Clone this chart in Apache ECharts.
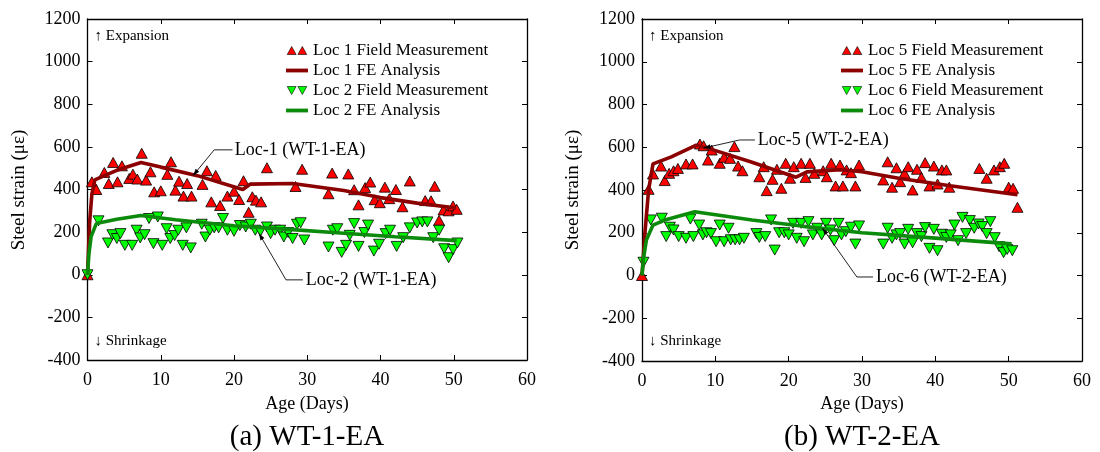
<!DOCTYPE html>
<html>
<head>
<meta charset="utf-8">
<script src="https://cdn.jsdelivr.net/npm/echarts@6/dist/echarts.min.js"></script>
<style>
  html, body { margin: 0; padding: 0; background: #fff; }
  #chart { width: 1100px; height: 452px; }
</style>
</head>
<body>
<div id="chart"></div>
<script>
// ---- Measured steel strain (με) against age (days) ----
// WT-1-EA, location 1 field readings
const loc1Field = [[0,0],[0.6,436],[1.2,400],[2.3,480],[2.9,428],[3.5,527],[4.1,436],[4.7,511],[5.7,452],[6.2,472],[6.8,449],[7.4,570],[8.0,444],[8.6,483],[9.1,389],[10.0,394],[10.9,471],[11.4,530],[12.0,397],[12.5,439],[13.1,369],[13.6,428],[14.2,369],[15.7,424],[16.3,488],[16.9,342],[17.5,466],[18.1,325],[19.1,369],[20.0,392],[20.7,353],[21.3,441],[22.0,293],[22.5,366],[23.0,350],[23.7,342],[24.5,502],[28.4,414],[29.3,495],[32.9,380],[33.4,477],[35.6,473],[36.4,399],[37.0,328],[37.9,409],[38.6,435],[39.2,352],[39.9,338],[40.6,411],[41.2,357],[42.1,400],[43.0,319],[44.0,440],[46.1,348],[46.9,347],[47.4,415],[48.0,255],[48.6,304],[49.3,300],[49.9,323],[50.4,307]];
// WT-1-EA, location 1 FE prediction
const loc1FE = [[0,0],[0.3,250],[0.6,380],[1.0,445],[2,460],[4,490],[7.3,527],[10,505],[15,465],[21.2,400],[22.2,425],[28,428],[35,395],[40,362],[45,336],[50.3,313]];
// WT-1-EA, location 2 field readings
const loc2Field = [[0,0],[1.5,253],[2.8,149],[3.4,188],[4.0,170],[4.5,193],[5.1,138],[6.1,138],[6.7,209],[7.2,173],[7.8,188],[8.4,264],[9.0,146],[9.6,271],[10.2,138],[10.8,216],[11.3,170],[11.9,184],[12.4,209],[13.0,138],[13.5,220],[14.1,126],[15.6,237],[16.1,177],[16.7,209],[17.3,220],[17.9,220],[18.5,264],[19.1,209],[20.0,204],[20.8,231],[21.6,224],[22.3,237],[22.9,209],[23.6,204],[24.5,224],[25.0,193],[25.6,209],[26.3,209],[26.8,177],[27.4,198],[28.0,170],[28.6,237],[29.1,244],[29.6,163],[32.9,130],[33.5,209],[34.1,216],[34.7,105],[35.3,138],[35.8,185],[36.4,240],[37.0,133],[37.8,198],[38.3,233],[39.1,111],[39.8,143],[40.7,193],[41.3,209],[42.2,133],[43.1,174],[44.0,220],[45.0,243],[45.7,248],[46.4,248],[47.2,174],[48.0,209],[48.7,122],[49.3,80],[49.9,118],[50.5,149]];
// WT-1-EA, location 2 FE prediction
const loc2FE = [[0,0],[0.2,100],[0.5,180],[1.2,240],[4,260],[7.3,278],[12,258],[20,230],[27,214],[35,195],[42,178],[50.4,160]];

// WT-2-EA, location 5 field readings
const loc5Field = [[0,0],[0.9,403],[1.5,475],[2.6,512],[3.1,444],[3.7,478],[4.3,490],[4.9,501],[6.0,522],[6.9,522],[7.9,615],[8.4,607],[9.0,540],[9.5,587],[10.6,525],[11.2,553],[12.0,548],[12.6,603],[13.1,512],[13.7,490],[16.0,462],[16.6,509],[17.0,397],[17.8,450],[18.4,497],[19.0,408],[19.6,525],[20.2,455],[20.7,509],[21.7,525],[22.3,459],[22.9,525],[23.5,478],[24.7,490],[25.2,462],[25.8,525],[26.4,419],[27.0,517],[27.4,419],[27.9,494],[28.5,481],[29.1,419],[29.6,517],[32.9,447],[33.5,532],[34.1,413],[34.7,504],[35.2,439],[35.8,478],[36.3,509],[36.9,400],[37.5,497],[38.1,459],[38.6,528],[39.2,419],[39.8,512],[40.3,428],[40.9,494],[41.5,494],[41.9,413],[46.0,501],[47.0,455],[48.0,494],[48.8,509],[49.4,525],[50.0,413],[50.6,408],[51.2,319]];
// WT-2-EA, location 5 FE prediction
const loc5FE = [[0,0],[0.4,200],[0.9,400],[1.5,522],[4,555],[7.4,610],[9.5,590],[15,530],[21,460],[22.5,485],[27,495],[30,485],[35,455],[42,420],[51.2,378]];
// WT-2-EA, location 6 field readings
const loc6Field = [[0.2,62],[1.2,260],[2.7,268],[3.3,182],[3.8,226],[4.3,213],[5.0,182],[6.0,174],[6.6,264],[7.0,182],[7.8,236],[8.3,190],[8.8,200],[9.4,196],[10.1,158],[10.6,236],[11.2,158],[11.8,221],[12.1,167],[12.7,167],[13.3,167],[13.9,174],[15.6,196],[16.0,178],[16.8,182],[17.6,260],[18.1,119],[18.7,200],[19.4,200],[20.0,190],[20.6,244],[21.1,174],[21.7,244],[22.1,158],[22.7,252],[23.3,190],[23.9,221],[24.5,190],[25.1,244],[25.7,213],[26.2,163],[26.8,244],[27.2,190],[27.8,205],[28.5,226],[29.1,147],[29.6,232],[32.9,147],[33.5,221],[34.1,174],[34.7,190],[35.2,196],[35.8,147],[36.3,216],[36.9,153],[37.5,196],[38.1,182],[38.6,224],[39.2,127],[39.8,216],[40.3,116],[40.9,193],[41.5,178],[42.1,190],[42.6,236],[43.1,163],[43.7,272],[44.2,196],[44.7,257],[45.3,221],[45.9,241],[46.4,229],[47.0,196],[47.5,252],[48.1,177],[48.7,135],[49.3,107],[49.8,122],[50.5,116]];
// WT-2-EA, location 6 FE prediction
const loc6FE = [[0,0],[0.2,80],[0.6,166],[1.5,236],[3,258],[7.2,298],[15,260],[22,230],[30,200],[40,175],[50.4,148]];

// ---- Axis ranges ----
const ageRange = [0, 60, 10];
const strainRange = [-400, 1200, 200];

const SERIF = '"Liberation Serif", "Times New Roman", serif';
const RED = '#ff0000', DARKRED = '#8b0000', LIME = '#00ff00', GREEN = '#0b8a0b';

const chart = echarts.init(document.getElementById('chart'), null, { renderer: 'canvas' });

const grids = [
  { left: 87.5, right: 573, top: 19, bottom: 92 },
  { left: 642, right: 18, top: 19, bottom: 91 }
];

const plain = v => String(v);

function xAx(grid, pos) {
  const bottom = pos === 'bottom';
  return {
    type: 'value', gridIndex: grid, position: pos,
    min: ageRange[0], max: ageRange[1], interval: ageRange[2],
    axisLine: { show: true, onZero: false, lineStyle: { color: '#000', width: 1.3 } },
    axisTick: { show: true, inside: true, length: 5, lineStyle: { color: '#000', width: 1 } },
    axisLabel: { show: bottom, color: '#000', fontFamily: SERIF, fontSize: 18, margin: 11, formatter: plain },
    splitLine: { show: false }
  };
}
function yAx(grid, pos) {
  const left = pos === 'left';
  return {
    type: 'value', gridIndex: grid, position: pos,
    min: strainRange[0], max: strainRange[1], interval: strainRange[2],
    axisLine: { show: true, onZero: false, lineStyle: { color: '#000', width: 1.3 } },
    axisTick: { show: true, inside: true, length: 5, lineStyle: { color: '#000', width: 1 } },
    axisLabel: { show: left, color: '#000', fontFamily: SERIF, fontSize: 18, margin: 7, formatter: plain },
    splitLine: { show: false }
  };
}

function fieldSeries(name, data, axis, up) {
  return {
    name, type: 'scatter', data, xAxisIndex: axis, yAxisIndex: axis,
    symbol: 'triangle', symbolSize: [11, 10], symbolRotate: up ? 0 : 180,
    itemStyle: { color: up ? RED : LIME, borderColor: '#000', borderWidth: 0.8, opacity: 1 },
    z: 3
  };
}
function feSeries(name, data, axis, color) {
  return {
    name, type: 'line', data, xAxisIndex: axis, yAxisIndex: axis,
    showSymbol: false, symbol: 'none', color,
    lineStyle: { color, width: 3.6 }, z: 4
  };
}

const triUp = 'path://M0,9L5,0L10,9ZM12,9L17,0L22,9Z';
const triDown = 'path://M0,0L10,0L5,9ZM12,0L22,0L17,9Z';
const bar = 'path://M0,0H22V3.8H0Z';

function legendFor(left, names) {
  return {
    orient: 'vertical', left, top: 37, itemWidth: 22, itemHeight: 8, itemGap: 3,
    textStyle: { color: '#000', fontFamily: SERIF, fontSize: 17, lineHeight: 17 },
    selectedMode: false,
    data: [
      { name: names[0], icon: triUp, itemStyle: { color: RED, borderColor: '#000', borderWidth: 0.6 } },
      { name: names[1], icon: bar, itemStyle: { color: DARKRED, borderWidth: 0 } },
      { name: names[2], icon: triDown, itemStyle: { color: LIME, borderColor: '#000', borderWidth: 0.6 } },
      { name: names[3], icon: bar, itemStyle: { color: GREEN, borderWidth: 0 } }
    ]
  };
}

chart.setOption({
  animation: false,
  backgroundColor: '#fff',
  grid: grids,
  xAxis: [xAx(0, 'bottom'), xAx(1, 'bottom'), xAx(0, 'top'), xAx(1, 'top')],
  yAxis: [yAx(0, 'left'), yAx(1, 'left'), yAx(0, 'right'), yAx(1, 'right')],
  legend: [
    legendFor(281, ['Loc 1 Field Measurement', 'Loc 1 FE Analysis', 'Loc 2 Field Measurement', 'Loc 2 FE Analysis']),
    legendFor(836, ['Loc 5 Field Measurement', 'Loc 5 FE Analysis', 'Loc 6 Field Measurement', 'Loc 6 FE Analysis'])
  ],
  series: [
    fieldSeries('Loc 1 Field Measurement', loc1Field, 0, true),
    fieldSeries('Loc 2 Field Measurement', loc2Field, 0, false),
    feSeries('Loc 1 FE Analysis', loc1FE, 0, DARKRED),
    feSeries('Loc 2 FE Analysis', loc2FE, 0, GREEN),
    fieldSeries('Loc 5 Field Measurement', loc5Field, 1, true),
    fieldSeries('Loc 6 Field Measurement', loc6Field, 1, false),
    feSeries('Loc 5 FE Analysis', loc5FE, 1, DARKRED),
    feSeries('Loc 6 FE Analysis', loc6FE, 1, GREEN)
  ]
});

// ---- Callout labels with leader arrows, anchored in data space ----
function px(g, p) { return chart.convertToPixel({ xAxisIndex: g, yAxisIndex: g }, p); }

const callouts = [
  { g: 0, text: 'Loc-1 (WT-1-EA)', at: [20.1, 586], path: [[19.8, 586], [17.3, 586], [14.4, 465]] },
  { g: 0, text: 'Loc-2 (WT-1-EA)', at: [29.8, -24], path: [[29.4, -24], [27.1, -24], [23.4, 195]] },
  { g: 1, text: 'Loc-5 (WT-2-EA)', at: [15.8, 634], path: [[15.4, 634], [13.3, 634], [8.4, 596]] },
  { g: 1, text: 'Loc-6 (WT-2-EA)', at: [31.9, -7], path: [[31.5, -7], [29.3, -7], [24.6, 222]] }
];

const graphics = [];
callouts.forEach(c => {
  const pts = c.path.map(p => px(c.g, p));
  graphics.push({ type: 'polyline', shape: { points: pts }, style: { stroke: '#222', lineWidth: 1, fill: null }, z: 10 });
  const tip = pts[pts.length - 1], prev = pts[pts.length - 2];
  const dx = tip[0] - prev[0], dy = tip[1] - prev[1], L = Math.hypot(dx, dy);
  const ux = dx / L, uy = dy / L, len = 7, hw = 2.3;
  const bx = tip[0] - ux * len, by = tip[1] - uy * len;
  graphics.push({ type: 'polygon', shape: { points: [tip, [bx - uy * hw, by + ux * hw], [bx + uy * hw, by - ux * hw]] },
    style: { fill: '#000' }, z: 10 });
  const t = px(c.g, c.at);
  graphics.push({ type: 'text', x: t[0], y: t[1], z: 10,
    style: { text: c.text, fill: '#000', font: '18px ' + SERIF, textAlign: 'left', textVerticalAlign: 'middle' } });
});

// Axis titles, direction notes and panel captions
[[0, 307], [1, 862]].forEach(([g, cx]) => {
  const left = g === 0 ? 87.5 : 642;
  graphics.push(
    { type: 'text', x: left + 7, y: 36, style: { text: '\u2191 Expansion', fill: '#000', font: '15px ' + SERIF, textVerticalAlign: 'middle' } },
    { type: 'text', x: left + 7, y: 341, style: { text: '\u2193 Shrinkage', fill: '#000', font: '15px ' + SERIF, textVerticalAlign: 'middle' } },
    { type: 'text', x: cx, y: 404, style: { text: 'Age (Days)', fill: '#000', font: '18px ' + SERIF, textAlign: 'center', textVerticalAlign: 'middle' } },
    { type: 'text', x: cx, y: 437, style: { text: g === 0 ? '(a) WT-1-EA' : '(b) WT-2-EA', fill: '#000', font: '29px ' + SERIF, textAlign: 'center', textVerticalAlign: 'middle' } },
    { type: 'text', x: left - 68.5, y: 190, rotation: Math.PI / 2,
      style: { text: 'Steel strain (\u03bc\u03b5)', fill: '#000', font: '19px ' + SERIF, textAlign: 'center', textVerticalAlign: 'middle' } }
  );
});

chart.setOption({ graphic: graphics });
</script>
</body>
</html>
